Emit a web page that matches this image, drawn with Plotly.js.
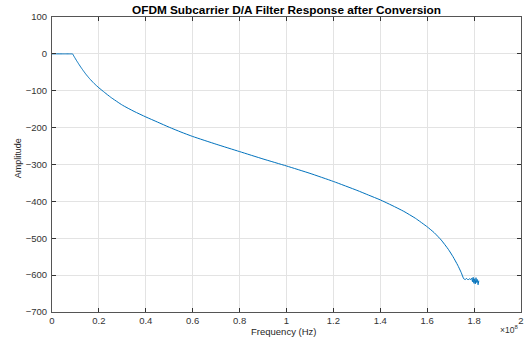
<!DOCTYPE html>
<html>
<head>
<meta charset="utf-8">
<script src="https://cdn.plot.ly/plotly-3.0.1.min.js"></script>
<style>html,body{margin:0;padding:0;background:#fff;}#chart{width:526px;height:338px;}</style>
</head>
<body>
<div id="chart"></div>
<script>
// Frequency in units of 1e8 Hz
const freq = [0, 0.05, 0.085, 0.0875, 0.095, 0.105, 0.115, 0.125, 0.135, 0.145, 0.16, 0.18, 0.2, 0.225, 0.25, 0.3, 0.35, 0.4, 0.45, 0.5, 0.55, 0.6, 0.7, 0.8, 0.9, 1.0, 1.1, 1.2, 1.3, 1.35, 1.4, 1.45, 1.5, 1.55, 1.6, 1.63, 1.66, 1.69, 1.71, 1.73, 1.745, 1.756,
  1.762, 1.768, 1.774, 1.78, 1.786, 1.79, 1.793, 1.796, 1.799, 1.802, 1.805, 1.808, 1.811, 1.814, 1.817, 1.82];
const amplitude = [0, 0, 0, 0, -8, -18.5, -28.5, -38, -47, -55.5, -67, -80.5, -92, -105, -117.5, -139, -156, -171, -185, -199, -212, -224, -245, -265, -285, -304, -324, -346, -370, -383, -396, -411, -427, -446, -469, -485, -505, -530, -550, -573, -593, -610,
  -612, -609, -613, -610, -612, -608, -618, -606, -622, -610, -624, -607, -620, -612, -626, -615];
const xTickVals = [0, 0.2, 0.4, 0.6, 0.8, 1.0, 1.2, 1.4, 1.6, 1.8, 2.0];
const xTickText = ['0', '0.2', '0.4', '0.6', '0.8', '1', '1.2', '1.4', '1.6', '1.8', '2'];
const xScale = 1e8;

const trace = {
  x: freq.map(v => v * xScale),
  y: amplitude,
  type: 'scatter',
  mode: 'lines',
  line: {color: '#0072BD', width: 1, shape: 'spline', smoothing: 0.5},
  hoverinfo: 'none'
};

const axisCommon = {
  showline: true,
  linecolor: '#555555',
  linewidth: 1,
  mirror: 'ticks',
  ticks: 'inside',
  ticklen: 4,
  tickwidth: 1,
  tickcolor: '#333333',
  showgrid: true,
  gridcolor: '#e3e3e3',
  gridwidth: 1,
  zeroline: false,
  tickfont: {family: 'Liberation Sans, Arial, sans-serif', size: 9.5, color: '#333333'}
};

const layout = {
  width: 526,
  height: 338,
  margin: {l: 52, r: 5, t: 17, b: 26},
  paper_bgcolor: '#ffffff',
  plot_bgcolor: '#ffffff',
  showlegend: false,
  title: {
    text: '<b>OFDM Subcarrier D/A Filter Response after Conversion</b>',
    font: {family: 'Liberation Sans, Arial, sans-serif', size: 11.8, color: '#000000'},
    xref: 'paper', x: 0.5, xanchor: 'center', y: 0.972, yanchor: 'middle'
  },
  xaxis: Object.assign({}, axisCommon, {
    range: [0, 2e8],
    tickmode: 'array',
    tickvals: xTickVals.map(v => v * xScale),
    ticktext: xTickText
  }),
  yaxis: Object.assign({}, axisCommon, {
    range: [-700, 100],
    dtick: 100,
    tick0: 0,
    ticklabelstandoff: 2
  }),
  annotations: [
    {text: 'Frequency (Hz)', xref: 'paper', yref: 'paper', x: 0.4946, y: -0.067, xanchor: 'center', yanchor: 'middle', showarrow: false,
     font: {family: 'Liberation Sans, Arial, sans-serif', size: 9.5, color: '#262626'}},
    {text: 'Amplitude', xref: 'paper', yref: 'paper', x: -0.073, y: 0.52, xanchor: 'center', yanchor: 'middle', textangle: -90, showarrow: false,
     font: {family: 'Liberation Sans, Arial, sans-serif', size: 9, color: '#262626'}},
    {text: '×10<sup>8</sup>', xref: 'paper', yref: 'paper', x: 0.998, y: -0.086, xanchor: 'right', yanchor: 'bottom', showarrow: false,
     font: {family: 'Liberation Sans, Arial, sans-serif', size: 8.5, color: '#333333'}}
  ]
};

Plotly.newPlot('chart', [trace], layout, {staticPlot: true, displayModeBar: false});
</script>
</body>
</html>
